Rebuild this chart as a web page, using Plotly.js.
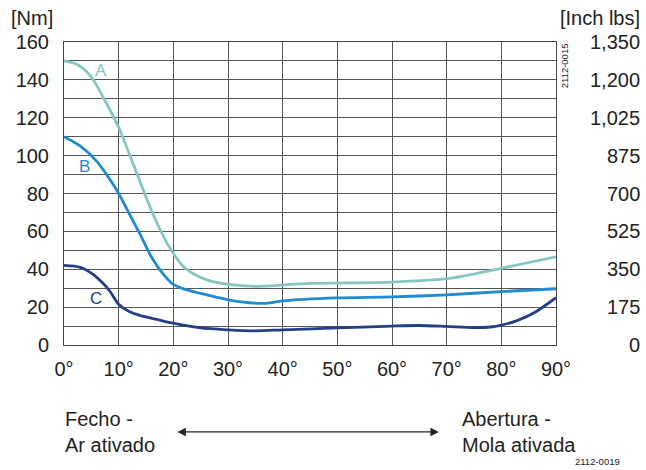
<!DOCTYPE html>
<html>
<head>
<meta charset="utf-8">
<script src="https://cdn.plot.ly/plotly-3.0.1.min.js"></script>
<style>html,body{margin:0;padding:0;background:#fff;}#chart{width:646px;height:470px;}</style>
</head>
<body>
<div id="chart"></div>
<script>
// Curve A
const angleA = [0, 2.5, 5, 7.5, 10, 13, 16, 19, 22, 26, 30, 35, 45, 60, 70, 80, 90];
const torqueA = [150, 148, 141.5, 129, 115, 93, 71, 53, 41, 34.5, 32, 31, 32.5, 33.2, 35, 40.5, 46.5];
// Curve B
const angleB = [0, 3, 6, 8.5, 10, 12, 14, 16, 18, 20, 22, 25, 28, 31, 34, 37, 40, 50, 60, 70, 80, 90];
const torqueB = [110, 105, 97, 87, 80, 69, 58, 46.5, 38, 32, 29.5, 27.3, 25.2, 23.3, 22.3, 22, 23.3, 24.9, 25.4, 26.5, 28.2, 29.7];
// Curve C
const angleC = [0, 3, 5, 7, 8.5, 10, 12, 14, 17, 20, 25, 30, 35, 40, 50, 60, 65, 70, 75, 78, 80, 83, 86, 90];
const torqueC = [42, 41, 38, 33, 28, 21.5, 17.5, 15.5, 13.5, 11.5, 9, 8, 7.5, 8, 9, 10, 10.3, 9.8, 9.2, 9.5, 10.5, 13, 17, 25];

const xTickVals = [0, 10, 20, 30, 40, 50, 60, 70, 80, 90];
const xTickText = ["0°", "10°", "20°", "30°", "40°", "50°", "60°", "70°", "80°", "90°"];
const yTickVals = [0, 20, 40, 60, 80, 100, 120, 140, 160];
const yTickText = ["0", "20", "40", "60", "80", "100", "120", "140", "160"];
const rightTickText = ["0", "175", "350", "525", "700", "875", "1,025", "1,200", "1,350"];

const curveNames = ["A", "B", "C"];
const curveColors = ["#86c7c3", "#1f8bd2", "#233f86"];
const labelX = [6.8, 3.7, 5.85];
const labelY = [145, 94.3, 24.6];

const font = "Arial, 'Liberation Sans', sans-serif";
const traces = [
  {x: angleA, y: torqueA},
  {x: angleB, y: torqueB},
  {x: angleC, y: torqueC}
].map((t, i) => ({
  x: t.x, y: t.y, type: 'scatter', mode: 'lines', name: curveNames[i],
  line: {color: curveColors[i], width: 2.8, shape: 'spline', smoothing: 0.8},
  hoverinfo: 'skip'
}));

const annotations = [];
curveNames.forEach((n, i) => annotations.push({
  x: labelX[i], y: labelY[i], xref: 'x', yref: 'y', text: n, showarrow: false,
  font: {family: font, size: 17, color: curveColors[i]}
}));
rightTickText.forEach((t, i) => annotations.push({
  x: 1.175, y: yTickVals[i], xref: 'paper', yref: 'y', text: t, showarrow: false,
  xanchor: 'right', yanchor: 'middle', font: {family: font, size: 20, color: '#222'}
}));
annotations.push({x: -0.065, y: 1.08, xref: 'paper', yref: 'paper', text: '[Nm]', showarrow: false,
  xanchor: 'center', yanchor: 'middle', font: {family: font, size: 20, color: '#222'}});
annotations.push({x: 1.175, y: 1.08, xref: 'paper', yref: 'paper', text: '[Inch lbs]', showarrow: false,
  xanchor: 'right', yanchor: 'middle', font: {family: font, size: 20, color: '#222'}});
annotations.push({x: 1.0163, y: 0.92, xref: 'paper', yref: 'paper', text: '2112-0015', showarrow: false,
  textangle: -90, xanchor: 'center', yanchor: 'middle', font: {family: font, size: 9.5, color: '#222'}});
annotations.push({x: 1.135, y: -0.386, xref: 'paper', yref: 'paper', text: '2112-0019', showarrow: false,
  xanchor: 'right', yanchor: 'middle', font: {family: font, size: 9.5, color: '#222'}});
annotations.push({x: -0.002, y: -0.287, xref: 'paper', yref: 'paper', text: 'Fecho -<br>Ar ativado', showarrow: false,
  xanchor: 'left', yanchor: 'middle', align: 'left', font: {family: font, size: 20, color: '#222'}});
annotations.push({x: 0.805, y: -0.287, xref: 'paper', yref: 'paper', text: 'Abertura -<br>Mola ativada', showarrow: false,
  xanchor: 'left', yanchor: 'middle', align: 'left', font: {family: font, size: 20, color: '#222'}});
annotations.push({x: 0.762, y: -0.287, xref: 'paper', yref: 'paper', text: '', showarrow: true,
  ax: -263, ay: 0, arrowside: 'end+start', arrowhead: 2, arrowsize: 1.3, arrowwidth: 1.3, arrowcolor: '#222'});

const layout = {
  width: 646, height: 470,
  margin: {l: 64, r: 90, t: 42, b: 125},
  paper_bgcolor: '#fff', plot_bgcolor: '#fff',
  showlegend: false,
  font: {family: font, size: 20, color: '#222'},
  xaxis: {
    range: [0, 90], tickvals: xTickVals, ticktext: xTickText,
    showgrid: true, gridcolor: '#555', gridwidth: 1,
    showline: true, linecolor: '#444', linewidth: 1, mirror: true,
    zeroline: false, ticks: '', ticklabelstandoff: 6,
    tickfont: {family: font, size: 20, color: '#222'}
  },
  yaxis: {
    range: [0, 160], tickvals: yTickVals, ticktext: yTickText,
    showgrid: true, gridcolor: '#555', gridwidth: 1,
    minor: {dtick: 10, showgrid: true, gridcolor: '#555', gridwidth: 1},
    showline: true, linecolor: '#444', linewidth: 1, mirror: true,
    zeroline: false, ticks: '', ticklabelstandoff: 10,
    tickfont: {family: font, size: 20, color: '#222'}
  },
  annotations: annotations
};

Plotly.newPlot('chart', traces, layout, {displayModeBar: false, staticPlot: true});
</script>
</body>
</html>
